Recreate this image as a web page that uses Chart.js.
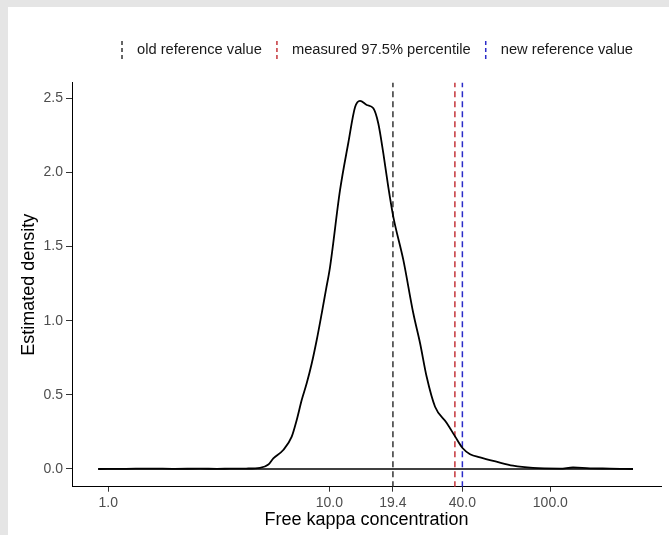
<!DOCTYPE html>
<html>
<head>
<meta charset="utf-8">
<script src="https://cdn.jsdelivr.net/npm/chart.js@4.4.1/dist/chart.umd.min.js"></script>
<style>
  html, body { margin: 0; padding: 0; background: #e5e5e5; width: 669px; height: 535px; overflow: hidden; }
  #wrap { position: absolute; left: 8px; top: 7px; width: 661px; height: 528px; background: #fff; }
</style>
</head>
<body>
<div id="wrap"><canvas id="chart" width="661" height="528"></canvas></div>
<script>
// ------------------------
// Data
// ------------------------
const kappaX = [
  0.90, 1.2, 1.55, 2.0, 2.6, 3.1, 3.55, 4.2, 4.86, 5.3, 5.58, 6.19, 6.76, 7.12,
  7.50, 7.90, 8.32, 8.77, 9.24, 9.66, 10.07, 11.18, 12.19, 13.07, 13.77, 14.77,
  15.82, 16.66, 17.55, 18.49, 19.48, 21.62, 23.99, 25.73, 27.59, 30.09, 33.98,
  37.06, 40.15, 43.32, 48.1, 57.0, 67.8, 83.5, 110.7, 126.7, 151.2, 186.2, 236.7,
]
const densityY = [
  0, 0.001, 0.003, 0.001, 0.002, 0.001, 0.002, 0.003, 0.008, 0.03, 0.072, 0.128,
  0.218, 0.33, 0.465, 0.578, 0.71, 0.87, 1.05, 1.21, 1.36, 1.88, 2.2, 2.44,
  2.483, 2.455, 2.432, 2.33, 2.13, 1.9, 1.7, 1.41, 1.05, 0.85, 0.62, 0.42, 0.31,
  0.22, 0.14, 0.1, 0.078, 0.049, 0.022, 0.007, 0.003, 0.01, 0.004, 0.003, 0,
]

const refLabels = ['old reference value', 'measured 97.5% percentile', 'new reference value']
const refValues = [19.4, 37.0, 40.0]

const xTicks = [1, 10, 19.4, 40, 100]
const yTicks = [0, 0.5, 1, 1.5, 2, 2.5]

// ------------------------
// Styles
// ------------------------
const refColors = ['#333333', '#c4343a', '#2b2bc8']
const FONT = '"Liberation Sans", Arial, sans-serif'

Chart.defaults.font.family = FONT

// ------------------------
// Legend (dashed keys above the panel)
// ------------------------
const refLegend = {
  id: 'refLegend',
  afterDraw (chart) {
    const { ctx, chartArea } = chart
    const gap = 15
    ctx.save()
    ctx.font = '14.7px ' + FONT
    const widths = refLabels.map((t) => ctx.measureText(t).width)
    const total = widths.reduce((a, b) => a + b, 0) + (2 * refLabels.length - 1) * gap
    let x = (chartArea.left + chartArea.right) / 2 + 11 - total / 2
    const y = 43
    refLabels.forEach((label, i) => {
      ctx.strokeStyle = refColors[i]
      ctx.lineWidth = 1.5
      ctx.setLineDash([4, 3])
      ctx.beginPath()
      ctx.moveTo(x, y - 9)
      ctx.lineTo(x, y + 9)
      ctx.stroke()
      ctx.setLineDash([])
      ctx.fillStyle = '#1a1a1a'
      ctx.textBaseline = 'middle'
      ctx.textAlign = 'left'
      ctx.fillText(label, x + gap, y)
      x += gap + widths[i] + gap
    })
    ctx.restore()
  },
}

// ------------------------
// Chart
// ------------------------
const densityPoints = kappaX.map((x, i) => ({ x, y: densityY[i] }))
const baseline = [
  { x: kappaX[0], y: 0 },
  { x: kappaX[kappaX.length - 1], y: 0 },
]

const refDatasets = refValues.map((v, i) => ({
  label: refLabels[i],
  data: [{ x: v, y: -1 }, { x: v, y: 3 }],
  borderColor: refColors[i],
  borderWidth: 1.5,
  borderDash: [6, 4],
  pointRadius: 0,
}))

new Chart(document.querySelector('#chart'), {
  type: 'line',
  data: {
    datasets: [
      {
        label: 'density',
        data: densityPoints,
        borderColor: '#000',
        borderWidth: 1.8,
        pointRadius: 0,
        cubicInterpolationMode: 'monotone',
      },
      {
        label: 'baseline',
        data: baseline,
        borderColor: '#000',
        borderWidth: 1.6,
        pointRadius: 0,
      },
      ...refDatasets,
    ],
  },
  options: {
    responsive: false,
    animation: false,
    devicePixelRatio: 1,
    layout: { padding: { top: 75.7, right: 8, bottom: 0, left: 0 } },
    plugins: {
      legend: { display: false },
      tooltip: { enabled: false },
    },
    scales: {
      x: {
        type: 'logarithmic',
        min: 0.685,
        max: 316.8,
        afterBuildTicks: (scale) => {
          scale.ticks = xTicks.map((value) => ({ value }))
        },
        afterFit: (scale) => {
          scale.height = 48.3
        },
        ticks: {
          callback: (v) => Number(v).toFixed(1),
          color: '#4d4d4d',
          font: { size: 14 },
          padding: 3,
          autoSkip: false,
          maxRotation: 0,
        },
        grid: { drawOnChartArea: false, drawTicks: true, tickLength: 5, color: '#333' },
        border: { color: '#000', width: 1 },
        title: {
          display: true,
          text: 'Free kappa concentration',
          color: '#000',
          font: { size: 18 },
          padding: { top: 0, bottom: 4 },
        },
      },
      y: {
        min: -0.1194,
        max: 2.605,
        afterBuildTicks: (scale) => {
          scale.ticks = yTicks.map((value) => ({ value }))
        },
        afterFit: (scale) => {
          scale.width = 64
        },
        ticks: {
          callback: (v) => Number(v).toFixed(1),
          color: '#4d4d4d',
          font: { size: 14 },
          padding: 3,
        },
        grid: { drawOnChartArea: false, drawTicks: true, tickLength: 6, color: '#333' },
        border: { color: '#000', width: 1 },
        title: {
          display: true,
          text: 'Estimated density',
          color: '#000',
          font: { size: 18 },
          padding: { top: 10.5, bottom: 0 },
        },
      },
    },
  },
  plugins: [refLegend],
})
</script>
</body>
</html>
